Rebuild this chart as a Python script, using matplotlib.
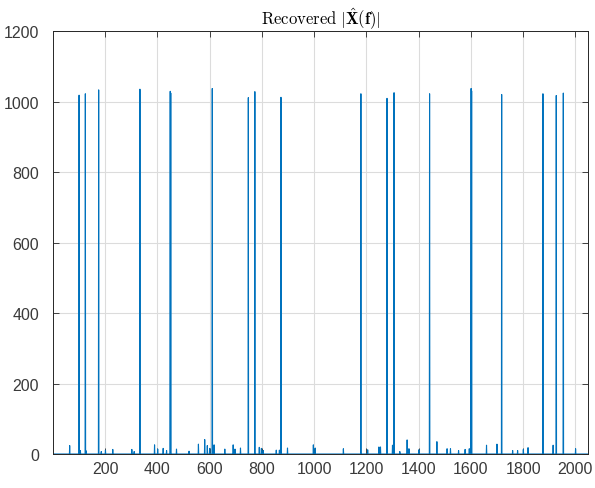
#!/usr/bin/env python

import numpy as np
import matplotlib
matplotlib.use("Agg")
import matplotlib.pyplot as plt

# big recovered peaks (bin, magnitude)
peak_bins = [100, 124, 175, 333, 449, 451, 610, 748, 773, 873,
             1179, 1279, 1306, 1442, 1601, 1603, 1718, 1876, 1927, 1954]
peak_mags = [1018, 1022, 1033, 1035, 1029, 1024, 1037, 1011, 1028, 1012,
             1022, 1009, 1025, 1022, 1037, 1030, 1020, 1022, 1017, 1024]

# small leakage bumps near the floor
small_bins = [64, 105, 127, 185, 201, 229, 302, 311, 389, 401, 422, 435, 473,
              521, 557, 581, 591, 600, 617, 658, 690, 697, 718, 790, 798, 805,
              855, 867, 898, 997, 1004, 1112, 1205, 1248, 1254, 1300, 1328,
              1356, 1363, 1401, 1470, 1509, 1522, 1553, 1578, 1594, 1660,
              1700, 1760, 1779, 1801, 1819, 1915, 2001]
small_mags = [24, 10, 9, 7, 11, 13, 13, 7, 26, 14, 16, 10, 14,
              8, 28, 41, 24, 16, 26, 14, 26, 14, 17, 19, 16, 10,
              11, 11, 17, 26, 17, 15, 12, 20, 20, 25, 7,
              40, 15, 12, 35, 15, 15, 10, 13, 15, 25,
              28, 10, 10, 13, 18, 25, 15]

N = 2048


def make_plot():
    mag = np.zeros(N)
    mag[np.array(small_bins) - 1] = small_mags
    mag[np.array(peak_bins) - 1] = peak_mags
    freq = np.arange(1, N + 1)

    plt.rcParams['font.family'] = ['Liberation Sans', 'DejaVu Sans']
    plt.rcParams['mathtext.fontset'] = 'cm'

    fig = plt.figure(figsize=(5.95, 4.89), dpi=100)
    ax = fig.add_axes([0.089, 0.0695, 0.899, 0.865])
    ax.plot(freq, mag, color='#0072BD', lw=0.8)

    ax.set_xlim(0, N)
    ax.set_ylim(0, 1200)
    ax.set_xticks(range(200, 2001, 200))
    ax.set_yticks(range(0, 1201, 200))
    ax.grid(True, color='#dcdcdc', lw=0.8)
    ax.set_axisbelow(True)
    ax.tick_params(direction='in', top=True, right=True, labelsize=11.5,
                   colors='#262626', labelcolor='#3a3a3a', length=4, width=0.6)
    ax.tick_params(axis='y', pad=10)
    ax.tick_params(axis='x', pad=5)
    for s in ax.spines.values():
        s.set_color('#262626')
        s.set_linewidth(0.7)

    ax.set_title(r'$\mathrm{Recovered}\ |\hat{\mathbf{X}}(\mathbf{f})|$',
                 fontsize=12, pad=5)

    fig.savefig('out.png', dpi=100)


def main():
    make_plot()


if __name__ == "__main__":
    main()
